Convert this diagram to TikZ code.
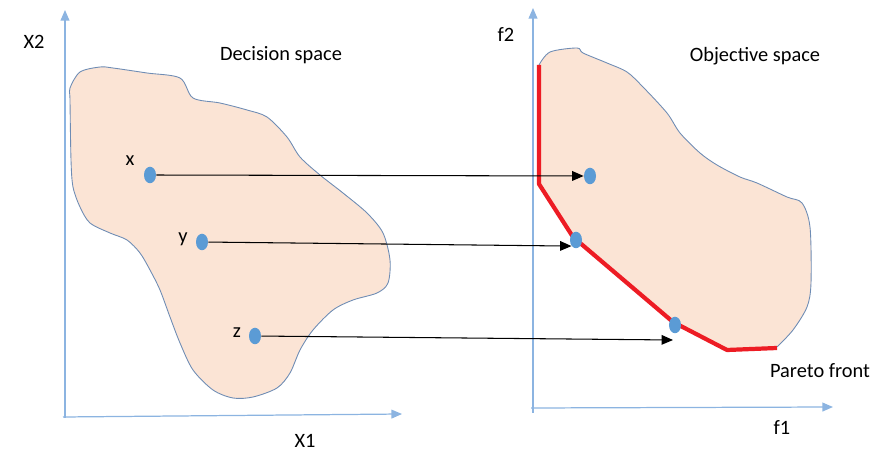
\documentclass[tikz,border=0pt]{standalone}
\usepackage{fontspec}
\setmainfont{Carlito}
\usepackage{tikz}
\usetikzlibrary{arrows.meta, shapes.geometric}

\definecolor{axisblue}{RGB}{140,180,225}
\definecolor{dotblue}{RGB}{91,155,213}
\definecolor{regionfill}{RGB}{251,228,213}
\definecolor{regionline}{RGB}{110,140,180}
\definecolor{frontred}{RGB}{237,28,36}

\begin{document}
\begin{tikzpicture}[x=0.02cm, y=-0.02cm,
    every node/.style={font=\fontsize{11.6}{13}\selectfont},
    axis/.style={axisblue, line width=0.7pt, -{Triangle[length=6pt, width=5pt]}},
    region/.style={fill=regionfill, draw=regionline, line width=0.5pt},
    pt/.style={ellipse, fill=dotblue, inner sep=0pt, minimum width=0.24cm, minimum height=0.33cm},
    map/.style={black, line width=0.6pt, -{Triangle[length=6.5pt, width=5.5pt]}}]
    \useasboundingbox (0,0) rectangle (876,455);
    % Decision space
    \draw[region] plot[smooth cycle, tension=0.5] coordinates {(70,88) (80,72) (100,67) (113,68)
        (147,73) (180,78) (193,98) (220,103) (247,110) (267,117) (287,137) (300,157)
        (320,175) (343,193) (367,213) (383,233) (390,260) (388,283) (377,293) (353,300)
        (333,310) (313,330) (300,350) (290,373) (277,388) (253,397) (233,398) (213,390)
        (193,370) (180,343) (170,317) (160,290) (150,270) (140,253) (127,240) (110,233)
        (90,223) (80,207) (73,187) (71,160) (70,100)};
    \draw[axis] (65,418) -- (65,10);
    \draw[axis] (63,417) -- (402,414);
    \node (xtwo) at (34,42) {X2};
    \node (xone) at (305,441) {X1};
    \node (dlabel) at (281,55) {Decision space};
    % Objective space
    \draw[region] plot[smooth, tension=0.5] coordinates {(539,65) (550,52) (577,48) (583,53)
        (607,63) (627,72) (643,87) (667,113) (680,133) (700,153) (717,165) (740,177)
        (757,183) (787,197) (802,203) (810,227) (811,283) (807,307) (793,330) (777,347)}
        -- (727,350) -- (673,322) -- (573,237) -- (539,184) -- cycle;
    \draw[frontred, line width=2.4pt, line join=round] (539,65) -- (539,184) -- (573,237)
        -- (673,322) -- (727,350) -- (777,348);
    \draw[axis] (533,413) -- (533,8);
    \draw[axis] (531,408) -- (833,407);
    \node (ftwo) at (506,35) {f2};
    \node (fone) at (782,428) {f1};
    \node (olabel) at (755,56) {Objective space};
    \node (front) at (820,371) {Pareto front};
    % points
    \node[pt] (xd) at (150,175) {};
    \node[pt] (yd) at (202,242) {};
    \node[pt] (zd) at (255,336) {};
    \node (xlab) at (130,161) {x};
    \node (ylab) at (183,239) {y};
    \node (zlab) at (237,333) {z};
    \node[pt] (xo) at (590,176) {};
    \node[pt] (yo) at (576,240) {};
    \node[pt] (zo) at (675,325) {};
    \coordinate (zt) at (673,340);
    \draw[map] (xd) -- (xo.west);
    \draw[map] (yd) -- (yo.south west);
    \draw[map] (zd) -- (zt);
\end{tikzpicture}
\end{document}
